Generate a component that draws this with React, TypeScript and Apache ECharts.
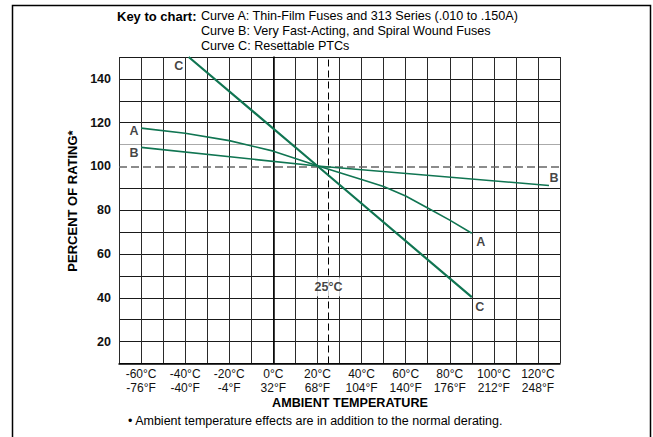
import React, { useEffect, useRef } from "react";
import * as echarts from "echarts";

const xTicksC = [-60, -40, -20, 0, 20, 40, 60, 80, 100, 120];
const xTicksF = ["-76", "-40", "-4", "32", "68", "104", "140", "176", "212", "248"];
const yTicks = [20, 40, 60, 80, 100, 120, 140];

const curveA = [
  [-60, 117.5], [-40, 115.2], [-20, 111.8], [0, 107], [20, 100.3],
  [40, 94], [50, 90.8], [60, 86.5], [70, 81], [80, 75.5], [90, 69.5],
];
const curveB = [[-60, 108.7], [20, 100.2], [125, 91.3]];
const curveC = [[-38.4, 150], [20, 100.2], [90, 40.3]];

const curveLabels = [
  { name: "A", value: [-60, 117.5], offset: [-7, 3] },
  { name: "B", value: [-60, 108.7], offset: [-7, 6] },
  { name: "C", value: [-38.4, 150], offset: [-10, 9] },
  { name: "B", value: [125, 91.3], offset: [5, -8] },
  { name: "A", value: [90, 69.5], offset: [9, 9] },
  { name: "C", value: [90, 40.3], offset: [8, 10] },
];

const refTemp = 25;
const refPct = 100;
const refLabel = "25°C";
const refLabelY = 45;

const keyTitle = "Key to chart:";
const keyLines = [
  "Curve A: Thin-Film Fuses and 313 Series (.010 to .150A)",
  "Curve B: Very Fast-Acting, and Spiral Wound Fuses",
  "Curve C: Resettable PTCs",
];
const yTitle = "PERCENT OF RATING*";
const xTitle = "AMBIENT TEMPERATURE";
const footnote = "• Ambient temperature effects are in addition to the normal derating.";

const GREEN = "#107552";
const SANS = "'Liberation Sans', Arial, Helvetica, sans-serif";

export default function App() {
  const ref = useRef<HTMLDivElement>(null);
  useEffect(() => {
    if (!ref.current) return;
    const chart = echarts.init(ref.current, undefined, { renderer: "svg" });
    const hColors: string[] = [];
    for (let v = 10; v <= 150; v += 10) {
      if (v === refPct) hColors.push("rgba(0,0,0,0)");
      else if (v === 110) hColors.push("#aaaaaa");
      else hColors.push("#1a1a1a");
    }
    chart.setOption({
      animation: false,
      backgroundColor: "#ffffff",
      grid: { left: 119, top: 57, width: 441, height: 306.5, containLabel: false },
      xAxis: {
        type: "value",
        min: -70,
        max: 130,
        interval: 10,
        axisLine: { show: true, lineStyle: { color: "#000", width: 1.5 } },
        axisTick: { show: false },
        splitLine: { show: true, lineStyle: { color: "#2a2a2a", width: 1 } },
        axisLabel: {
          margin: 3,
          fontFamily: SANS,
          fontSize: 12,
          lineHeight: 14,
          color: "#111",
          formatter: (v: number) => {
            const i = xTicksC.indexOf(v);
            return i >= 0 ? `${v}°C\n${xTicksF[i]}°F` : "";
          },
        },
      },
      yAxis: {
        type: "value",
        min: 10,
        max: 150,
        interval: 10,
        axisLine: { show: true, lineStyle: { color: "#000", width: 1.5 } },
        axisTick: { show: false },
        splitLine: { show: true, lineStyle: { color: hColors, width: 1 } },
        axisLabel: {
          margin: 8,
          fontFamily: SANS,
          fontWeight: "bold",
          fontSize: 12.5,
          color: "#111",
          formatter: (v: number) => (yTicks.indexOf(v) >= 0 ? String(v) : ""),
        },
      },
      series: [
        {
          type: "line",
          data: curveA,
          showSymbol: false,
          lineStyle: { color: GREEN, width: 1.6 },
          z: 5,
          markLine: {
            silent: true,
            symbol: "none",
            label: { show: false },
            data: [
              { yAxis: refPct, lineStyle: { color: "#666", type: [8, 4], width: 1.5 } },
              { xAxis: refTemp, lineStyle: { color: "#000", type: [7, 4], width: 1 } },
            ],
          },
        },
        {
          type: "line",
          data: curveB,
          showSymbol: false,
          lineStyle: { color: GREEN, width: 1.6 },
          z: 5,
        },
        {
          type: "line",
          data: curveC,
          showSymbol: false,
          lineStyle: { color: GREEN, width: 2.2 },
          z: 5,
        },
        {
          type: "scatter",
          symbolSize: 1,
          itemStyle: { color: "rgba(0,0,0,0)" },
          z: 10,
          silent: true,
          data: curveLabels.map((d) => ({
            name: d.name,
            value: d.value,
            label: {
              show: true,
              position: "inside",
              offset: d.offset,
              formatter: "{b}",
              fontFamily: SANS,
              fontWeight: "bold",
              fontSize: 12.5,
              color: "#111",
            },
          })),
        },
        {
          type: "scatter",
          symbolSize: 1,
          itemStyle: { color: "rgba(0,0,0,0)" },
          z: 20,
          silent: true,
          data: [
            {
              name: refLabel,
              value: [refTemp, refLabelY],
              label: {
                show: true,
                position: "inside",
                formatter: "{b}",
                fontFamily: SANS,
                fontWeight: "bold",
                fontSize: 12.5,
                color: "#111",
                backgroundColor: "#fff",
                padding: [3, 1],
              },
            },
          ],
        },
      ],
      graphic: [
        {
          type: "rect",
          z: 100,
          shape: { x: 12.5, y: 5.5, width: 638, height: 445 },
          style: { fill: "none", stroke: "#000", lineWidth: 1.5 },
        },
        {
          type: "text",
          z: 100,
          x: 117,
          y: 16,
          style: {
            text: keyTitle,
            font: `bold 13px ${SANS}`,
            fill: "#000",
            verticalAlign: "middle",
          },
        },
        ...keyLines.map((t, i) => ({
          type: "text",
          z: 100,
          x: 201,
          y: 16 + i * 15,
          style: {
            text: t,
            font: `12.6px ${SANS}`,
            fill: "#000",
            verticalAlign: "middle",
          },
        })),
        {
          type: "text",
          z: 100,
          x: 72,
          y: 201,
          rotation: Math.PI / 2,
          style: {
            text: yTitle,
            font: `bold 13px ${SANS}`,
            fill: "#000",
            align: "center",
            verticalAlign: "middle",
          },
        },
        {
          type: "text",
          z: 100,
          x: 350,
          y: 403,
          style: {
            text: xTitle,
            font: `bold 12.6px ${SANS}`,
            fill: "#000",
            align: "center",
            verticalAlign: "middle",
          },
        },
        {
          type: "text",
          z: 100,
          x: 128,
          y: 421,
          style: {
            text: footnote,
            font: `12.5px ${SANS}`,
            fill: "#000",
            verticalAlign: "middle",
          },
        },
      ],
    });
    return () => chart.dispose();
  }, []);
  return (
    <div
      ref={ref}
      style={{ position: "fixed", left: 0, top: 0, width: 653, height: 437, background: "#fff" }}
    />
  );
}
